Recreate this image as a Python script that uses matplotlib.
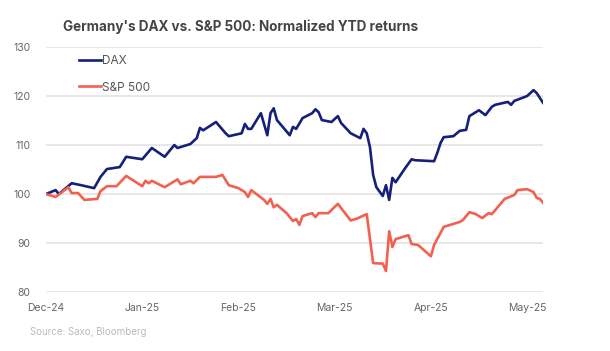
import matplotlib
matplotlib.use("Agg")
import matplotlib.pyplot as plt

plt.rcParams["font.family"] = ["Inter", "DejaVu Sans"]

# approx. days since the start of the chart
dax_day = [0, 3, 4, 8, 11, 15, 17, 19, 23, 25, 30, 33, 37, 40, 41, 45, 47, 48, 49,
           53, 56, 57, 61, 62, 63, 64, 67, 69, 70, 71, 72, 76, 77, 78, 80, 83, 84,
           85, 86, 89, 91, 92, 95, 98, 99, 100, 101, 102, 103, 105, 106, 107, 108,
           109, 112, 114, 115, 121, 122, 123, 124, 127, 129, 131, 132, 135, 137,
           139, 140, 144, 145, 146, 150, 152, 153, 155]
dax_val = [100.0, 100.8, 100.0, 102.2, 101.8, 101.2, 103.5, 105.1, 105.5, 107.6,
           107.1, 109.4, 107.6, 110.0, 109.4, 110.2, 111.4, 113.5, 113.0, 114.7,
           112.4, 111.8, 112.4, 114.3, 113.3, 113.3, 116.5, 112.0, 116.5, 117.5,
           115.1, 112.0, 113.7, 113.3, 115.5, 116.5, 117.3, 116.7, 115.1, 114.7,
           115.9, 114.5, 112.4, 111.4, 113.3, 112.4, 109.6, 103.9, 101.4, 99.6,
           101.8, 98.8, 103.3, 102.4, 105.3, 107.1, 106.9, 106.7, 108.4, 110.4,
           111.6, 111.8, 112.9, 113.1, 115.9, 117.1, 116.1, 117.8, 118.2, 118.8,
           118.2, 119.0, 120.0, 121.2, 120.6, 118.6]

spx_day = [0, 3, 5, 7, 8, 10, 12, 16, 17, 19, 22, 25, 30, 31, 32, 33, 37, 41, 42,
           45, 46, 48, 53, 55, 57, 60, 62, 63, 64, 68, 69, 70, 71, 72, 75, 77, 78,
           79, 80, 83, 84, 85, 88, 91, 93, 95, 97, 100, 102, 105, 106, 107, 108,
           109, 113, 114, 116, 120, 121, 124, 127, 129, 130, 132, 134, 136, 138,
           139, 143, 146, 147, 150, 152, 153, 154, 155]
spx_val = [100.0, 99.4, 100.4, 101.4, 100.2, 100.2, 98.8, 99.0, 100.6, 101.6,
           101.6, 103.7, 101.6, 102.7, 102.2, 102.7, 101.4, 103.0, 102.0, 102.7,
           102.2, 103.5, 103.5, 103.9, 101.8, 101.2, 100.4, 99.4, 100.8, 98.8,
           98.0, 99.0, 97.3, 97.8, 96.1, 94.5, 94.9, 93.7, 95.5, 96.1, 95.3, 96.1,
           96.1, 98.0, 96.3, 94.6, 95.0, 95.9, 85.9, 85.8, 84.3, 92.4, 89.2, 90.8,
           91.6, 89.8, 89.6, 87.3, 89.6, 93.3, 93.9, 94.3, 94.7, 96.3, 95.9, 95.1,
           96.1, 95.9, 99.0, 99.8, 100.8, 101.0, 100.4, 99.2, 99.0, 98.2]

tick_days = [0, 30, 60, 90, 120, 150]
tick_labels = ["Dec-24", "Jan-25", "Feb-25", "Mar-25", "Apr-25", "May-25"]
y_ticks = [80, 90, 100, 110, 120, 130]

fig = plt.figure(figsize=(6.1, 3.51), dpi=100)
ax = fig.add_axes([0.0754, 0.168, 0.815, 0.698])

ax.plot(dax_day, dax_val, color="#15207a", lw=1.9, label="DAX",
        solid_joinstyle="round")
ax.plot(spx_day, spx_val, color="#f4604f", lw=1.9, label="S&P 500",
        solid_joinstyle="round")

ax.set_xlim(0, 155)
ax.set_ylim(80, 130)
ax.set_yticks(y_ticks)
ax.set_xticks(tick_days)
ax.set_xticklabels(tick_labels)
ax.grid(axis="y", color="#e3e3e3", lw=1.2)
ax.set_axisbelow(True)
for s in ax.spines.values():
    s.set_visible(False)
ax.tick_params(length=0, colors="#666666", labelsize=7.5)
ax.tick_params(axis="y", pad=11)
ax.tick_params(axis="x", pad=8)

leg = ax.legend(loc="upper left", bbox_to_anchor=(0.056, 0.985), frameon=False,
                fontsize=8.5, handlelength=1.9, handletextpad=0.05,
                labelspacing=1.2, borderaxespad=0)
for t in leg.get_texts():
    t.set_color("#555555")

fig.text(0.394, 0.925, "Germany's DAX vs. S&P 500: Normalized YTD returns",
         ha="center", va="center", fontsize=9.7, fontweight="bold",
         color="#444444")
fig.text(0.05, 0.054, "Source: Saxo, Bloomberg", ha="left", va="center",
         fontsize=7, color="#bbbbbb")

fig.savefig("out.png", dpi=100)
